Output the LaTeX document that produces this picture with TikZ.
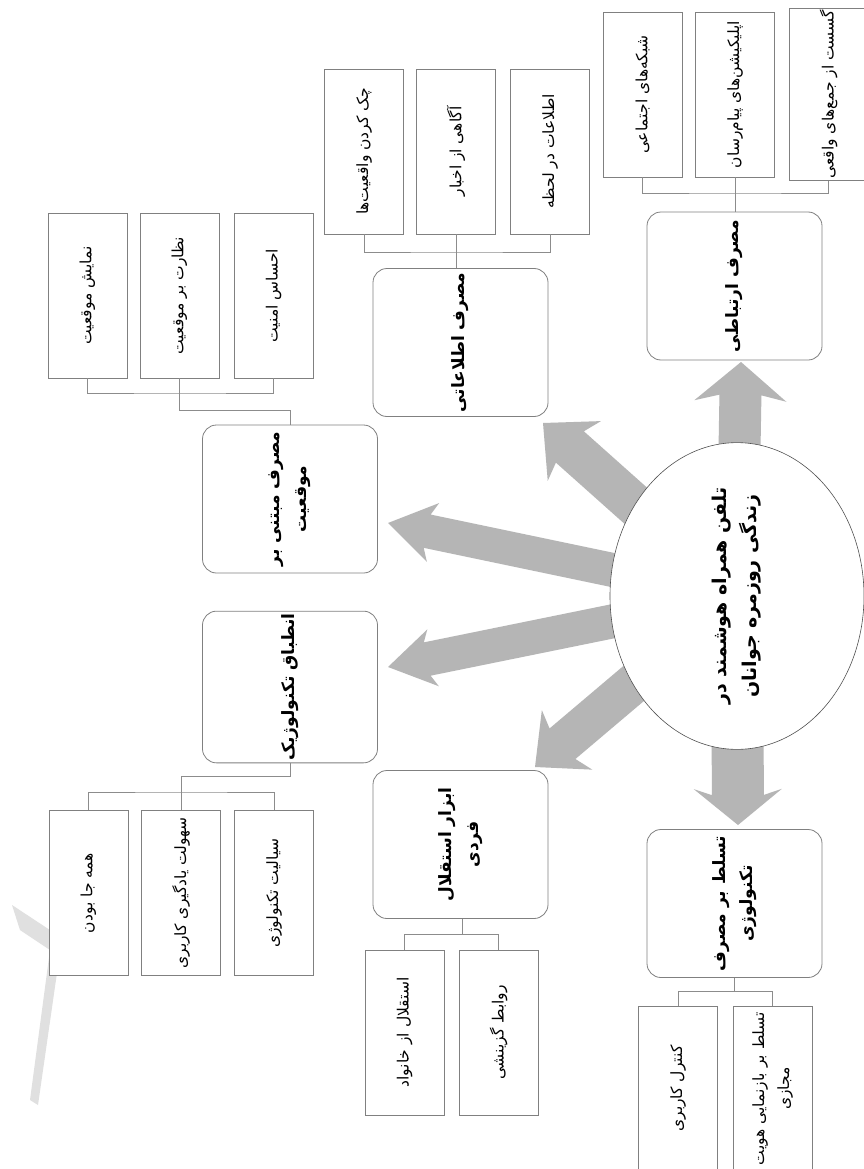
\documentclass[tikz,border=0pt]{standalone}
\usepackage{fontspec}
\newfontfamily\arabicfont[Script=Arabic]{DejaVu Sans}
\TeXXeTstate=1
\usetikzlibrary{calc,shapes.geometric,backgrounds}
\newcommand{\prs}[1]{\beginR #1\endR}
\definecolor{boxgray}{HTML}{808080}
\definecolor{linegray}{HTML}{8C8C8C}
\definecolor{arrowgray}{HTML}{B5B5B5}
\definecolor{ellgray}{HTML}{505050}
\definecolor{wmgray}{HTML}{E0E0E0}
% block arrow: #1 start, #2 tip, #3 shaft half width, #4 head half width, #5 head length
\newcommand{\blockarrow}[5]{%
  \coordinate (ba-b) at ($(#2)!#5!(#1)$);
  \coordinate (ba-c) at ($(#2)!#5+6pt!(#1)$);
  \fill[arrowgray] ($(#1)!#3!90:(#2)$) -- ($(ba-b)!#3!90:(#2)$) -- ($(ba-c)!#4!90:(#2)$)
     -- (#2) -- ($(ba-c)!#4!-90:(#2)$) -- ($(ba-b)!#3!-90:(#2)$) -- ($(#1)!#3!-90:(#2)$) -- cycle;}
\begin{document}
\begin{tikzpicture}[x=1pt,y=-1pt,
  leaf/.style={draw=boxgray, line width=0.8pt, fill=white, rotate=90,
    minimum width=165pt, minimum height=79pt, inner sep=2pt,
    font=\arabicfont\fontsize{15.5}{25}\selectfont, align=center},
  mainbox/.style={draw=boxgray, line width=0.8pt, fill=white, rounded corners=14pt, rotate=90,
    minimum width=148pt, minimum height=175pt, inner sep=2pt,
    font=\arabicfont\bfseries\fontsize{17}{27}\selectfont, align=center},
  link/.style={draw=linegray, line width=0.8pt}]
\useasboundingbox (0,0) rectangle (863,1169);

% hub
\node (hub) [ellipse, draw=ellgray, line width=0.6pt, fill=white, rotate=90,
  minimum width=282pt, minimum height=254pt, inner sep=0pt, align=center,
  font=\arabicfont\bfseries\fontsize{19}{30}\selectfont] at (737,596)
  {\prs{تلفن همراه هوشمند در}\\\prs{زندگی روزمره جوانان}};

% main boxes
\node (p1) [mainbox] at (734.5,286) {\prs{مصرف ارتباطی}};
\node (p2) [mainbox] at (460.5,342.5) {\prs{مصرف اطلاعاتی}};
\node (p3) [mainbox] at (290,499) {\prs{مصرف مبتنی بر}\\\prs{موقعیت}};
\node (p4) [mainbox] at (290,687) {\prs{انطباق تکنولوژیک}};
\node (p5) [mainbox] at (460.5,844.5) {\prs{ابزار استقلال}\\\prs{فردی}};
\node (p6) [mainbox] at (734.5,903.5) {\prs{تسلط بر مصرف}\\\prs{تکنولوژی}};

% leaf boxes
\node (c11) [leaf] at (642.5,94.5) {\prs{شبکه‌های اجتماعی}};
\node (c12) [leaf] at (735,94.5) {\prs{اپلیکیشن‌های پیام‌رسان}};
\node (c13) [leaf] at (828.5,94.5) {\prs{گسست از جمع‌های واقعی}};

\node (c21) [leaf] at (364,151.5) {\prs{چک کردن واقعیت‌ها}};
\node (c22) [leaf] at (456,151.5) {\prs{آگاهی از اخبار}};
\node (c23) [leaf] at (550,151.5) {\prs{اطلاعات در لحظه}};

\node (c31) [leaf] at (87.5,295.5) {\prs{نمایش موقعیت}};
\node (c32) [leaf] at (179.5,295.5) {\prs{نظارت بر موقعیت}};
\node (c33) [leaf] at (273.5,295.5) {\prs{احساس امنیت}};

\node (c41) [leaf] at (88.5,893) {\prs{همه جا بودن}};
\node (c42) [leaf] at (181,893) {\prs{سهولت یادگیری کاربری}};
\node (c43) [leaf] at (274,893) {\prs{سیالیت تکنولوژی}};

\node (c51) [leaf] at (404.5,1032.5) {\prs{استقلال از خانواد}};
\node (c52) [leaf] at (498.5,1032.5) {\prs{روابط گزینشی}};

\node (c61) [leaf] at (678,1088.5) {\prs{کنترل کاربری}};
\node (c62) [leaf] at (772.5,1088.5) {\prs{تسلط بر بازنمایی هویت}\\\prs{مجازی}};

% tree connectors
\coordinate (j1) at (735,193);
\draw[link] (c11.west) |- (j1) -| (c13.west);
\draw[link] (c12.west) -- (c12.west |- p1.east);

\coordinate (j2) at (456,252);
\draw[link] (c21.west) |- (j2) -| (c23.west);
\draw[link] (c22.west) -- (c22.west |- p2.east);

\coordinate (j3) at (179.5,393);
\draw[link] (c31.west) |- (j3) -| (c33.west);
\draw[link] (c32.west) -- ++(0,32) -| (p3.east);

\coordinate (j4) at (181,792);
\draw[link] (c41.east) |- (j4) -| (c43.east);
\draw[link] (c42.east) -- ++(0,-34) -| (p4.west);

\coordinate (j5) at (462,934);
\draw[link] (c51.east) |- (j5) -| (c52.east);
\draw[link] (j5) -- (j5 |- p5.west);

\coordinate (j6) at (734.5,991);
\draw[link] (c61.east) |- (j6) -| (c62.east);
\draw[link] (j6) -- (j6 |- p6.west);

% arrow tips
\coordinate (t1) at (741,362);
\coordinate (t2) at (543,423);
\coordinate (t3) at (388,523);
\coordinate (t4) at (388,667);
\coordinate (t5) at (535,767);
\coordinate (t6) at (738,825);

\begin{scope}[on background layer]
  \fill[white] (0,0) rectangle (863,1169);
  % watermark
  \fill[wmgray] (12,905) -- (62,938) -- (38,1105) -- (30,1100) -- (50,950) -- (20,930) -- cycle;
  \blockarrow{hub.center}{t1}{21pt}{46pt}{33pt}
  \blockarrow{hub.center}{t2}{21pt}{40pt}{36pt}
  \blockarrow{hub.center}{t3}{17pt}{30pt}{40pt}
  \blockarrow{hub.center}{t4}{17pt}{29pt}{40pt}
  \blockarrow{hub.center}{t5}{20pt}{39pt}{36pt}
  \blockarrow{hub.center}{t6}{26pt}{44pt}{30pt}
\end{scope}
\end{tikzpicture}
\end{document}
